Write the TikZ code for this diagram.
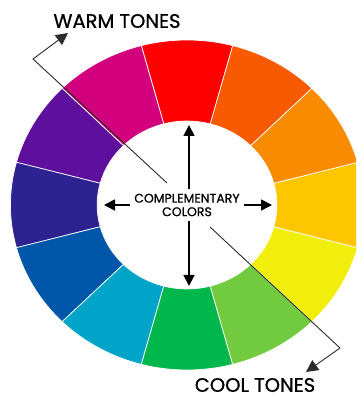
\documentclass[tikz,border=0pt]{standalone}
\usepackage{fontspec}
\setmainfont{Poppins}
\newfontfamily\wheelfont{Poppins}[FakeBold=0.9]
\usetikzlibrary{arrows.meta,positioning}
\definecolor{WheelRed}{HTML}{FF0000}
\definecolor{WheelMagenta}{HTML}{D2007C}
\definecolor{WheelViolet}{HTML}{5E0F9E}
\definecolor{WheelIndigo}{HTML}{2E2291}
\definecolor{WheelBlue}{HTML}{0057A9}
\definecolor{WheelTeal}{HTML}{00A4C8}
\definecolor{WheelGreen}{HTML}{00B74B}
\definecolor{WheelLime}{HTML}{72CB3E}
\definecolor{WheelYellow}{HTML}{F2EE0C}
\definecolor{WheelAmber}{HTML}{FDC600}
\definecolor{WheelOrange}{HTML}{F98B00}
\definecolor{WheelVermilion}{HTML}{F75A00}
\definecolor{ToneLine}{HTML}{2B2B2B}
\tikzset{
  wedge/.style={draw=white, line width=0.7pt},
  pointer/.style={-{Triangle[length=12pt,width=12pt]}, line width=0.9pt, draw=ToneLine},
  compl/.style={-{Triangle[length=11pt,width=11pt]}, line width=1.6pt, draw=black},
  tone/.style={font=\wheelfont\fontsize{19.5}{21}\selectfont, inner sep=0pt},
  centre/.style={font=\wheelfont\fontsize{12.5}{13.5}\selectfont, align=center, inner xsep=4pt, inner ysep=5pt},
}
\begin{document}
\begin{tikzpicture}[x=1pt,y=1pt]
  \useasboundingbox (0,0) rectangle (356,398);
  \clip (0,0) rectangle (356,398);
  % colour wheel, red on top, going counter-clockwise
  \begin{scope}[shift={(187,193)},xscale=1.07]
    \foreach \col [count=\i from 0] in {WheelRed,WheelMagenta,WheelViolet,WheelIndigo,
        WheelBlue,WheelTeal,WheelGreen,WheelLime,WheelYellow,WheelAmber,WheelOrange,WheelVermilion}{
      \pgfmathsetmacro{\a}{75+30*\i}
      \filldraw[fill=\col,wedge] (\a:84) -- (\a:165)
        arc[start angle=\a,delta angle=30,radius=165] -- ({\a+30}:84)
        arc[start angle=\a+30,delta angle=-30,radius=84] -- cycle;
    }
  \end{scope}

  \node[centre] (comp) at (187,193) {COMPLEMENTARY\\COLORS};
  \coordinate (upt) at (189,273);
  \coordinate (downt) at (189,112);
  \coordinate (leftt) at (104,193);
  \coordinate (rightt) at (272,193);
  \draw[compl] (comp.north -| upt) -- (upt);
  \draw[compl] (comp.south -| downt) -- (downt);
  \draw[compl] (comp.west) -- (leftt);
  \draw[compl] (comp.east) -- (rightt);

  % tone labels
  \node[tone] (warm) at (117,377) {WARM TONES};
  \node[tone] (cool) at (255,13) {COOL TONES};
  \coordinate (warmfoot) at (167,215);
  \coordinate (warmbend) at (33,339);
  \coordinate (warmtip) at (68,365);
  \coordinate (coolfoot) at (210,171);
  \coordinate (coolbend) at (340,50);
  \coordinate (cooltip) at (306,26);
  \draw[pointer] (warmfoot) -- (warmbend) -- (warmtip);
  \draw[pointer] (coolfoot) -- (coolbend) -- (cooltip);
\end{tikzpicture}
\end{document}
